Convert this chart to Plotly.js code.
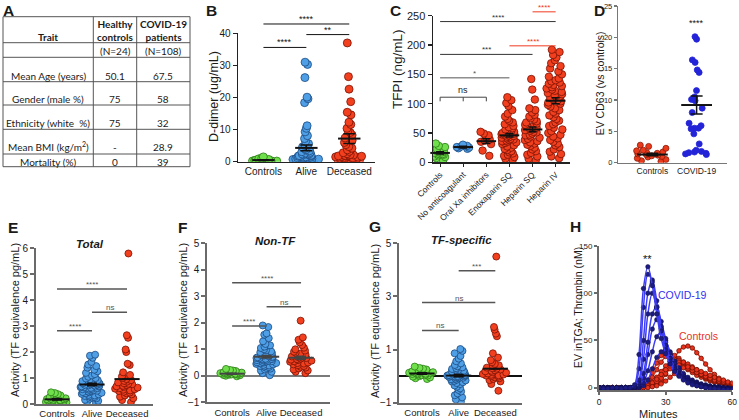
<!DOCTYPE html>
<html><head><meta charset="utf-8">
<script src="https://cdn.plot.ly/plotly-3.0.1.min.js"></script>
<style>html,body{margin:0;padding:0;background:#fff}#chart{width:739px;height:420px}</style>
</head><body><div id="chart"></div>
<script>
// ---------- Panel A: table ----------
const tableHeader = ['Trait', 'Healthy<br>controls', 'COVID-19<br>patients'];
const traitCol = ['', 'Mean Age (years)', 'Gender (male %)', 'Ethnicity (white  %)', 'Mean BMI (kg/m<sup>2</sup>)', 'Mortality (%)'];
const healthyCol = ['(N=24)', '50.1', '75', '75', '-', '0'];
const covidCol = ['(N=108)', '67.5', '58', '32', '28.9', '39'];

// ---------- Panel B: D-dimer ----------
const bCats = ['Controls', 'Alive', 'Deceased'];
const bCtrl = [0.2,0.3,0.5,0.4,0.3,0.6,0.2,0.4,0.8,1.1,1.5,0.3,0.5,0.2,0.7,0.4,0.3,0.9,0.5,0.2];
const bAlive = [31.0,30.3,26.2,20.1,19.6,18.4,11.2,10.4,9.3,8.1,7.2,6.3,5.6,5.0,4.6,4.1,3.7,3.4,3.1,2.9,2.7,2.5,2.3,2.2,2.0,1.9,1.8,1.7,1.6,1.5,1.4,1.3,1.2,1.1,1.0,1.0,0.9,0.9,0.8,0.8,0.7,0.7,0.6,0.6,0.5,0.5,0.4,0.4,0.3,0.3,0.3,0.2,0.2,0.2,1.3,2.4,0.6,1.1];
const bDeceased = [37.0,26.5,22.6,18.7,15.4,14.6,12.3,11.6,10.4,9.7,9.1,8.3,7.4,6.6,6.0,5.3,4.7,4.2,3.7,3.2,2.8,2.5,2.2,2.0,1.9,1.8,1.7,1.6,1.5,1.4,1.2,1.1,1.0,0.9,0.8,0.7,0.6,0.5,0.4,0.3,0.2,1.8,2.1,1.3];
const bMeans = [0.5, 4.3, 7.2];
const bSems = [0.1, 0.9, 1.5];

// ---------- Panel C: TFPI ----------
const cCats = ['Controls', 'No anticoagulant', 'Oral Xa inhibitors', 'Enoxaparin SQ', 'Heparin SQ', 'Heparin IV'];
const cCtrl = [32,28,26,23,21,19,18,17,16,15,14,14,13,12,10,9,7,3];
const cNoAnti = [30,28,27,26,25,24,23];
const cOralXa = [52,49,46,43,39,37,35,31,20,11];
const cEnox = [111,106,101,96,89,83,78,74,71,68,65,62,60,58,56,55,53,52,50,49,48,47,46,45,44,43,42,41,40,39,38,37,36,35,34,33,31,29,27,25,23,21,19,17,15,13,11,9,6,4];
const cHepSQ = [142,124,107,92,89,85,81,78,75,73,70,68,66,64,62,60,59,57,56,55,54,52,51,49,47,46,44,42,40,38,36,34,32,30,28,25,22,19,16,13,10,6,3];
const cHepIV = [192,188,183,179,174,169,164,160,155,150,146,143,140,138,136,134,132,130,128,126,124,122,120,118,116,114,112,110,108,106,104,102,100,98,95,92,89,86,83,80,77,74,71,68,65,62,59,56,53,50,47,44,41,38,35,32,29,26,22,18,14,10,7];
const cMeans = [16, 26, 36, 46, 56, 105];
const cSems = [2, 1.5, 4, 3, 4, 5];

// ---------- Panel D: EV CD63 ----------
const dCats = ['Controls', 'COVID-19'];
const dCtrl = [2.8,2.6,2.3,2.0,1.9,1.7,1.6,1.5,1.4,1.3,1.2,1.1,1.0,0.9,0.7,0.5,0.3,0.2];
const dCovid = [20.1,19.7,16.4,16.0,14.8,14.4,11.5,10.5,10.1,9.9,8.7,8.0,6.3,5.9,5.5,5.5,5.4,4.6,3.0,2.0,1.8,1.7,1.6,1.5,1.4,1.3];
const dMeans = [1.3, 9.2];
const dSems = [0.2, 1.45];

// ---------- Panels E/F/G: TF activity ----------
const efgCats = ['Controls', 'Alive', 'Deceased'];
const eCtrl = [0.45,0.42,0.38,0.33,0.3,0.28,0.26,0.24,0.22,0.2,0.19,0.18,0.16,0.15,0.14,0.12,0.11,0.1,0.09,0.08,0.06,0.05,0.04,0.12];
const eAlive = [1.9,1.86,1.78,1.62,1.52,1.46,1.4,1.32,1.26,1.2,1.15,1.1,1.05,1.0,0.98,0.95,0.92,0.9,0.88,0.85,0.83,0.81,0.8,0.78,0.76,0.75,0.74,0.72,0.71,0.7,0.68,0.67,0.65,0.64,0.62,0.61,0.6,0.58,0.57,0.55,0.53,0.51,0.5,0.48,0.46,0.45,0.43,0.41,0.39,0.37,0.35,0.33,0.31,0.29,0.27,0.25,0.22,0.2,0.16,0.12,0.08,0.04];
const eDeceased = [5.8,2.65,2.55,2.1,2.0,1.55,1.5,1.22,1.12,1.06,1.0,0.96,0.92,0.89,0.86,0.83,0.8,0.78,0.76,0.73,0.7,0.68,0.66,0.63,0.61,0.59,0.57,0.55,0.52,0.5,0.47,0.44,0.41,0.37,0.33,0.28,0.22,0.15,0.07];
const eMeans = [0.18, 0.75, 0.96];
const eSems = [0.03, 0.05, 0.0];

const fCtrl = [0.26,0.22,0.2,0.18,0.16,0.15,0.13,0.12,0.11,0.1,0.1,0.09,0.08,0.07,0.06,0.05,0.05,0.04,0.03,0.02,0.0,-0.02,0.12,0.08];
const fAlive = [1.9,1.84,1.6,1.55,1.42,1.3,1.2,1.15,1.1,1.05,1.0,0.96,0.92,0.89,0.86,0.83,0.8,0.78,0.76,0.74,0.72,0.7,0.69,0.67,0.66,0.64,0.63,0.62,0.6,0.59,0.58,0.56,0.55,0.54,0.52,0.51,0.5,0.48,0.47,0.45,0.43,0.41,0.39,0.37,0.35,0.33,0.3,0.27,0.24,0.2,0.15,0.1,0.02];
const fDeceased = [2.08,1.45,1.36,1.26,1.16,1.06,1.0,0.95,0.91,0.87,0.83,0.8,0.78,0.75,0.73,0.71,0.69,0.67,0.65,0.63,0.61,0.59,0.57,0.55,0.53,0.5,0.48,0.46,0.43,0.4,0.37,0.34,0.31,0.28,0.24,0.2,0.15,0.1];
const fMeans = [0.08, 0.72, 0.68];
const fSems = [0.02, 0.05, 0.06];

const gCtrl = [0.36,0.31,0.28,0.25,0.22,0.2,0.18,0.16,0.15,0.13,0.12,0.1,0.09,0.08,0.06,0.05,0.03,0.02,0.0,-0.02,-0.05,-0.08,-0.11,0.14];
const gAlive = [1.02,0.95,0.86,0.76,0.66,0.56,0.48,0.42,0.37,0.33,0.3,0.27,0.24,0.22,0.2,0.18,0.15,0.13,0.11,0.09,0.08,0.06,0.05,0.04,0.03,0.02,0.01,0.0,0.0,-0.01,-0.02,-0.03,-0.04,-0.05,-0.06,-0.08,-0.1,-0.12,-0.14,-0.16,-0.18,-0.2,-0.23,-0.26,-0.3,-0.35,-0.4,-0.46,-0.52,-0.58,-0.65,-0.72,-0.8,-0.88,-0.97];
const gDeceased = [4.5,1.85,1.75,1.6,1.5,0.86,0.7,0.6,0.52,0.46,0.41,0.38,0.35,0.32,0.3,0.28,0.25,0.22,0.2,0.18,0.15,0.13,0.1,0.08,0.06,0.05,0.03,0.02,0.0,-0.02,-0.05,-0.08,-0.11,-0.15,-0.2,-0.3,-0.55];
const gMeans = [0.1, 0.02, 0.28];
const gSems = [0.03, 0.04, 0.0];

// ---------- Panel H: thrombin generation ----------
const hTime = [0,2,4,6,8,10,12,14,16,18,20,22,24,26,28,30,32,34,36,38,40,42,44,46,48,50,52,54,56,58,60];
const hCovid1 = [0,-1,-1,0,0,-1,0,0,3,35,105,128,108,78,52,36,25,17,12,8,5,3,2,1,0,-1,-1,-2,-2,-2,-2];
const hCovid2 = [0,0,-1,-1,0,0,-1,0,1,20,85,120,112,85,60,40,28,19,13,9,6,4,2,1,0,0,-1,-1,-2,-2,-2];
const hCovid3 = [-1,0,0,-1,0,0,0,-1,1,8,50,100,114,92,65,45,31,21,14,10,7,5,3,2,1,0,0,-1,-1,-2,-2];
const hCovid4 = [0,-1,0,0,-1,0,0,0,0,5,30,78,100,85,62,44,31,22,15,10,7,5,3,2,1,0,-1,-1,-1,-2,-2];
const hCovid5 = [0,0,-1,0,0,-1,0,0,0,3,15,48,78,86,70,52,37,26,18,12,8,6,4,3,2,1,0,0,-1,-1,-1];
const hCovid6 = [-1,0,0,0,-1,0,0,0,0,2,10,35,62,72,63,48,35,25,18,12,8,6,4,3,2,1,0,0,-1,-1,-1];
const hCovid7 = [0,0,0,-1,0,0,-1,0,0,1,5,18,38,54,58,50,38,28,20,14,10,7,5,3,2,1,1,0,0,-1,-1];
const hCovid8 = [0,-1,0,0,0,-1,0,0,0,0,2,8,20,32,38,40,35,28,21,15,11,8,6,4,3,2,1,1,0,0,-1];
const hCtrl1 = [0,0,0,-1,0,0,0,0,-1,0,0,1,2,4,8,14,22,31,39,43,44,42,37,31,25,19,14,10,7,5,4];
const hCtrl2 = [0,0,-1,0,0,0,0,0,0,1,3,8,16,26,34,37,35,31,27,23,19,16,13,11,9,7,6,5,4,3,3];
const hCtrl3 = [0,0,0,0,-1,0,0,0,0,0,2,5,11,19,27,33,35,34,31,27,23,19,16,13,10,8,6,5,4,3,3];
const hCtrl4 = [-1,0,0,0,0,-1,0,0,0,0,1,3,6,11,17,23,28,30,29,26,23,20,17,14,11,9,7,6,5,4,3];
const hCtrl5 = [0,0,0,0,0,0,-1,0,0,0,0,1,3,6,10,15,20,24,27,27,25,22,19,16,13,11,9,7,6,5,4];
const hCtrl6 = [0,-1,0,0,0,0,0,0,0,0,1,2,5,9,14,19,23,25,24,22,20,18,16,14,12,10,8,7,6,5,4];
const hCtrl7 = [0,0,0,0,0,0,0,-1,0,0,0,0,1,2,4,7,11,15,19,21,22,21,19,17,15,13,11,9,8,6,5];

// ================= drawing =================
const W = 739, H = 420;
const FONT = 'Liberation Sans, Arial, sans-serif';
const TFONT = 'Lato, Liberation Sans, sans-serif';
const px = v => v / W;
const py = v => 1 - v / H;
const aid = n => (n === 1 ? '' : String(n));

const COL = {
  green: {fill: '#6fe04c', line: '#2c7a18'},
  blue: {fill: '#4f9fe6', line: '#1c4a80'},
  red: {fill: '#f2401f', line: '#7a1205'},
  dblue: {fill: '#2323d8', line: '#2323d8'},
  dred: {fill: '#ea3a1c', line: '#8a1a08'}
};

const traces = [];
const shapes = [];
const annotations = [];

function dots(n, idx, vals, col, size, width, jit) {
  traces.push({
    type: 'box', xaxis: 'x' + aid(n), yaxis: 'y' + aid(n), x0: idx, y: vals,
    boxpoints: 'all', jitter: jit, pointpos: 0, width: width,
    marker: {color: col.fill, size: size, opacity: 1, line: {color: col.line, width: 0.8}},
    line: {width: 0, color: 'rgba(0,0,0,0)'}, fillcolor: 'rgba(0,0,0,0)',
    hoverinfo: 'skip', showlegend: false
  });
}
function meanBar(n, means, sems, size, cap, color) {
  traces.push({
    type: 'scatter', mode: 'markers', xaxis: 'x' + aid(n), yaxis: 'y' + aid(n),
    x: means.map((_, i) => i), y: means,
    marker: {symbol: 'line-ew', size: size, color: color || '#111', line: {width: 2, color: color || '#111'}},
    error_y: {type: 'data', array: sems, visible: true, color: color || '#111', thickness: 1.5, width: cap},
    cliponaxis: false, hoverinfo: 'skip', showlegend: false
  });
}
const ranges = {};
function sig(n, x0, x1, yv, txt, col, lw, fs) {
  const r = ranges[n];
  const yf = (yv - r[0]) / (r[1] - r[0]);
  shapes.push({type: 'line', xref: 'x' + aid(n), yref: 'y' + aid(n) + ' domain', x0: x0, x1: x1, y0: yf, y1: yf, line: {color: col, width: lw}});
  annotations.push({xref: 'x' + aid(n), yref: 'y' + aid(n) + ' domain', x: (x0 + x1) / 2, y: yf, text: txt, showarrow: false,
    yanchor: 'bottom', yshift: -2, font: {size: fs, color: col, family: FONT}});
}
function label(x, y, text, size, opts) {
  annotations.push(Object.assign({xref: 'paper', yref: 'paper', x: px(x), y: py(y), text: text, showarrow: false,
    xanchor: 'center', yanchor: 'middle', font: {size: size, color: '#1a1a1a', family: FONT}}, opts || {}));
}

// ---- table (A) drawn as a ruled grid with text cells
(function table() {
  const colX = [3, 93.3, 136.7, 190];
  const rowY = [16.7, 42.7, 57.3, 81.7, 105, 129.3, 154, 166.7];
  const lineStyle = {color: '#555', width: 1};
  colX.forEach(x => shapes.push({type: 'line', xref: 'paper', yref: 'paper', x0: px(x), x1: px(x), y0: py(rowY[0]), y1: py(rowY[rowY.length - 1]), line: lineStyle}));
  rowY.forEach(y => shapes.push({type: 'line', xref: 'paper', yref: 'paper', x0: px(colX[0]), x1: px(colX[3]), y0: py(y), y1: py(y), line: lineStyle}));
  const cx = [48, 115, 163.3];
  const tf = {size: 10, color: '#1a1a1a', family: TFONT};
  label(cx[0], 36.5, '<b>' + tableHeader[0] + '</b>', 10, {font: tf});
  label(cx[1], 30.5, '<b>' + tableHeader[1] + '</b>', 10, {font: tf});
  label(cx[2], 30.5, '<b>' + tableHeader[2] + '</b>', 10, {font: tf});
  const textY = [51, 75.5, 99, 123.3, 146.7, 161.5];
  const cols = [traitCol, healthyCol, covidCol];
  cols.forEach((col, ci) => col.forEach((t, ri) => {
    if (t) label(cx[ci], textY[ri], t, 10, {font: tf});
  }));
})();

// ---- panel ranges
ranges[1] = [0, 40]; ranges[2] = [0, 250]; ranges[3] = [0, 25];
ranges[4] = [0, 6]; ranges[5] = [-1, 5]; ranges[6] = [-1, 5]; ranges[7] = [-2.5, 150];

// ---- B
dots(1, 0, bCtrl, COL.green, 8, 0.8, 1);
dots(1, 1, bAlive, COL.blue, 8, 0.65, 1);
dots(1, 2, bDeceased, COL.red, 8, 0.65, 1);
meanBar(1, bMeans, bSems, 16, 6);
sig(1, 0, 2, 42.9, '****', '#111', 1, 9);
sig(1, 1, 2, 39.6, '**', '#111', 1, 9);
sig(1, 0, 1, 35.6, '****', '#111', 1, 9);

// ---- C
dots(2, 0, cCtrl, COL.green, 7.5, 0.7, 1);
dots(2, 1, cNoAnti, COL.blue, 7.5, 0.7, 1);
dots(2, 2, cOralXa, COL.red, 7.5, 0.7, 1);
dots(2, 3, cEnox, COL.red, 7.5, 0.8, 1);
dots(2, 4, cHepSQ, COL.red, 7.5, 0.8, 1);
dots(2, 5, cHepIV, COL.red, 7.5, 0.8, 1);
meanBar(2, cMeans, cSems, 14, 4);
sig(2, 0, 5, 240, '****', '#333', 1, 8);
sig(2, 4, 5, 256.6, '****', '#f03a20', 1, 8);
sig(2, 3, 5, 198.6, '****', '#f03a20', 1, 8);
sig(2, 0, 4, 184, '***', '#333', 1, 8);
sig(2, 0, 3, 144, '*', '#555', 1, 8);
(function bracket() {
  const r = ranges[2], f = v => (v - r[0]) / (r[1] - r[0]);
  const yTop = f(111), yBot = f(104);
  shapes.push({type: 'line', xref: 'x2', yref: 'y2 domain', x0: 0, x1: 2, y0: yTop, y1: yTop, line: {color: '#444', width: 1}});
  [0, 1, 2].forEach(c => shapes.push({type: 'line', xref: 'x2', yref: 'y2 domain', x0: c, x1: c, y0: yTop, y1: yBot, line: {color: '#444', width: 1}}));
  annotations.push({xref: 'x2', yref: 'y2 domain', x: 1, y: yTop, text: 'ns', showarrow: false, yanchor: 'bottom', yshift: 0,
    font: {size: 9, color: '#222', family: FONT}});
})();

// ---- D
dots(3, 0, dCtrl, COL.dred, 6, 0.9, 1);
dots(3, 1, dCovid, COL.dblue, 6, 0.85, 1);
meanBar(3, dMeans, dSems, 22, 6);
annotations.push({xref: 'x3', yref: 'y3', x: 1, y: 22.3, text: '****', showarrow: false, font: {size: 9, color: '#111', family: FONT}});

// ---- E
dots(4, 0, eCtrl, COL.green, 7, 0.75, 1);
dots(4, 1, eAlive, COL.blue, 7, 0.7, 1);
dots(4, 2, eDeceased, COL.red, 7, 0.7, 1);
meanBar(4, eMeans, eSems, 18, 5);
sig(4, 0, 2, 4.43, '****', '#555', 1.5, 8);
sig(4, 1, 2, 3.54, 'ns', '#555', 1.5, 8);
sig(4, 0, 1, 2.82, '****', '#555', 1.5, 8);

// ---- F
dots(5, 0, fCtrl, COL.green, 7, 0.75, 1);
dots(5, 1, fAlive, COL.blue, 7, 0.7, 1);
dots(5, 2, fDeceased, COL.red, 7, 0.7, 1);
meanBar(5, fMeans, fSems, 18, 5, '#444');
sig(5, 0, 2, 3.51, '****', '#555', 1.5, 8);
sig(5, 1, 2, 2.61, 'ns', '#555', 1.5, 8);
sig(5, 0, 1, 1.88, '****', '#555', 1.5, 8);

// ---- G
dots(6, 0, gCtrl, COL.green, 7, 0.75, 1);
dots(6, 1, gAlive, COL.blue, 7, 0.7, 1);
dots(6, 2, gDeceased, COL.red, 7, 0.7, 1);
meanBar(6, gMeans, gSems, 18, 5);
sig(6, 1, 2, 3.97, '***', '#555', 1.5, 8);
sig(6, 0, 2, 2.77, 'ns', '#555', 1.5, 8);
sig(6, 0, 1, 1.72, 'ns', '#555', 1.5, 8);

// ---- H
[hCtrl1, hCtrl2, hCtrl3, hCtrl4, hCtrl5, hCtrl6, hCtrl7].forEach(c => traces.push({
  type: 'scatter', mode: 'lines+markers', x: hTime, y: c, xaxis: 'x7', yaxis: 'y7',
  line: {color: '#e8321c', width: 1.5, shape: 'spline'},
  marker: {size: 4.5, color: '#e8321c', line: {color: '#6e1004', width: 0.8}},
  hoverinfo: 'skip', showlegend: false
}));
[hCovid8, hCovid7, hCovid6, hCovid5, hCovid4, hCovid3, hCovid2, hCovid1].forEach(c => traces.push({
  type: 'scatter', mode: 'lines+markers', x: hTime, y: c, xaxis: 'x7', yaxis: 'y7',
  line: {color: '#3d3df5', width: 1.5, shape: 'spline'},
  marker: {size: 4.5, color: '#1c1c82', line: {color: '#10104a', width: 0.5}},
  hoverinfo: 'skip', showlegend: false
}));
annotations.push({xref: 'x7', yref: 'y7', x: 21.7, y: 136, text: '**', showarrow: false, font: {size: 11, color: '#111', family: FONT}});
annotations.push({xref: 'x7', yref: 'y7', x: 37.6, y: 98, text: 'COVID-19', showarrow: false, font: {size: 10.5, color: '#2f2ff0', family: FONT}});
annotations.push({xref: 'x7', yref: 'y7', x: 45, y: 55, text: 'Controls', showarrow: false, font: {size: 10.5, color: '#e8321c', family: FONT}});

// ---- labels
[['A', 8, 10], ['B', 211, 10], ['C', 395, 10], ['D', 599, 10], ['E', 13, 227], ['F', 182, 227], ['G', 375, 226], ['H', 575, 226]]
  .forEach(([t, x, y]) => label(x, y, '<b>' + t + '</b>', 15.5));
label(213.3, 96.7, 'D-dimer (ug/mL)', 12.5, {textangle: -90});
label(398, 69, 'TFPI (ng/mL)', 13.5, {textangle: -90});
label(600, 83.3, 'EV CD63 (vs controls)', 10.5, {textangle: -90});
label(15, 320, 'Activity (TF equivalence pg/mL)', 11, {textangle: -90});
label(183, 320, 'Activity (TF equivalence pg/mL)', 11, {textangle: -90});
label(375, 321, 'Activity (TF equivalence pg/mL)', 11, {textangle: -90});
label(578, 308, 'EV inTGA; Thrombin (nM)', 10.5, {textangle: -90});
label(658.3, 413.5, 'Minutes', 11, {borderpad: 0});
label(90, 244, '<b><i>Total</i></b>', 11.5);
label(275, 241, '<b><i>Non-TF</i></b>', 11.5);
label(461.7, 240, '<b><i>TF-specific</i></b>', 11.5);

// ---- axes
function xax(n, dom, range, tickvals, ticktext, extra) {
  return Object.assign({domain: [px(dom[0]), px(dom[1])], anchor: 'y' + aid(n), range: range, type: 'linear',
    tickvals: tickvals, ticktext: ticktext, tickangle: 0, showgrid: false, zeroline: false, showline: true,
    linecolor: '#222', linewidth: 1.2, ticks: '', tickfont: {size: 10, color: '#1a1a1a', family: FONT}, fixedrange: true}, extra || {});
}
function yax(n, dom, range, extra) {
  return Object.assign({domain: [py(dom[1]), py(dom[0])], anchor: 'x' + aid(n), range: range, type: 'linear',
    showgrid: false, zeroline: false, showline: true, linecolor: '#222', linewidth: 1.2,
    ticks: 'outside', ticklen: 4, tickwidth: 1.2, tickcolor: '#222',
    tickfont: {size: 10, color: '#1a1a1a', family: FONT}, fixedrange: true}, extra || {});
}
const grayAx = {linecolor: '#6a6a6a', linewidth: 2, tickcolor: '#6a6a6a', tickwidth: 2};
const grayX = {linecolor: '#6a6a6a', linewidth: 2};
const efgTick = {tickfont: {size: 9.5, color: '#1a1a1a', family: FONT}};

const layout = {
  width: W, height: H, margin: {l: 0, r: 0, t: 0, b: 0}, paper_bgcolor: '#fff', plot_bgcolor: 'rgba(0,0,0,0)',
  showlegend: false, font: {family: FONT, color: '#1a1a1a'},
  xaxis: xax(1, [237.7, 375], [-0.6, 2.6], [0, 1, 2], bCats),
  yaxis: yax(1, [33.3, 161.7], ranges[1], {dtick: 10, tick0: 0}),
  xaxis2: xax(2, [432.7, 570], [-0.32, 5.62], [0, 1, 2, 3, 4, 5], cCats,
    {tickangle: -45, ticks: 'outside', ticklen: 3, tickcolor: '#222', tickfont: {size: 8.5, color: '#1a1a1a', family: FONT}}),
  yaxis2: yax(2, [15.7, 162.3], ranges[2], {dtick: 50, tick0: 0, tickfont: {size: 11, color: '#1a1a1a', family: FONT}}),
  xaxis3: xax(3, [618.3, 726.7], [-0.77, 1.68], [0, 1], dCats, {tickfont: {size: 8.5, color: '#1a1a1a', family: FONT}, linecolor: '#777', linewidth: 1.5}),
  yaxis3: yax(3, [6, 162.7], ranges[3], {dtick: 5, tick0: 0, ticklen: 3, tickfont: {size: 7.5, color: '#1a1a1a', family: FONT}, linecolor: '#777', linewidth: 1.5, tickcolor: '#777'}),
  xaxis4: xax(4, [36, 153.3], [-0.6, 2.75], [0, 1, 2], efgCats, Object.assign({}, grayX, efgTick)),
  yaxis4: yax(4, [248.3, 404], ranges[4], Object.assign({dtick: 1, tick0: 0}, grayAx)),
  xaxis5: xax(5, [207.3, 330], [-0.72, 2.84], [0, 1, 2], efgCats, Object.assign({}, grayX, efgTick)),
  yaxis5: yax(5, [243.3, 402.3], ranges[5], Object.assign({dtick: 1, tick0: -1, zeroline: true, zerolinecolor: '#7a7a7a', zerolinewidth: 2}, grayAx)),
  xaxis6: xax(6, [399.3, 521.7], [-0.62, 2.72], [0, 1, 2], efgCats, Object.assign({}, grayX, efgTick)),
  yaxis6: yax(6, [243.3, 402.7], ranges[6], Object.assign({tickvals: [-1, 1, 3, 5], zeroline: true, zerolinecolor: '#111', zerolinewidth: 1.5}, grayAx)),
  xaxis7: xax(7, [599, 732.3], [0, 60], [0, 30, 60], ['0', '30', '60'], Object.assign({ticks: 'outside', ticklen: 3, tickcolor: '#6a6a6a', tickwidth: 2, tickfont: {size: 8.5, color: '#1a1a1a', family: FONT}}, grayX)),
  yaxis7: yax(7, [246, 390], ranges[7], Object.assign({tickvals: [0, 50, 100, 150], ticklen: 3, tickfont: {size: 8, color: '#1a1a1a', family: FONT}}, grayAx)),
  shapes: shapes,
  annotations: annotations
};

Plotly.newPlot('chart', traces, layout, {staticPlot: true, displayModeBar: false});
</script>
</body></html>
